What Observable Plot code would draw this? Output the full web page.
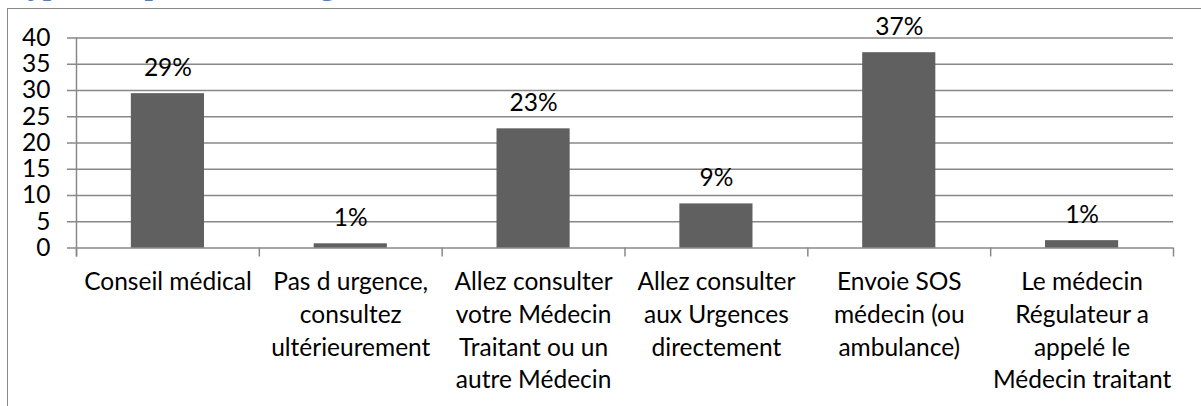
<!DOCTYPE html>
<html><head><meta charset="utf-8">
<script src="https://cdn.jsdelivr.net/npm/d3@7"></script>
<script src="https://cdn.jsdelivr.net/npm/@observablehq/plot@0.6"></script>
<style>
html,body{margin:0;padding:0;background:#fff;overflow:hidden}
#wrap{position:relative;width:1201px;height:406px;overflow:hidden}
#title{position:absolute;left:10px;top:-30px;font:bold 30px "Liberation Serif";line-height:1;color:#4F81BD;white-space:nowrap}
#frame{position:absolute;left:7px;top:7.5px;width:1300px;height:500px;border:1.5px solid #888;box-sizing:border-box}
#chart{position:absolute;left:0;top:0}
</style></head>
<body><div id="wrap"><div id="title">Type de réponse de la régulation</div><div id="frame"></div><div id="chart"></div></div>
<script>
const categories = [
  "Conseil médical",
  "Pas d urgence,\nconsultez\nultérieurement",
  "Allez consulter\nvotre Médecin\nTraitant ou un\nautre Médecin",
  "Allez consulter\naux Urgences\ndirectement",
  "Envoie SOS\nmédecin (ou\nambulance)",
  "Le médecin\nRégulateur a\nappelé le\nMédecin traitant"
];
const values = [29.4, 0.8, 22.7, 8.4, 37.2, 1.4];
const valueLabels = ["29%", "1%", "23%", "9%", "37%", "1%"];
const yTicks = [0, 5, 10, 15, 20, 25, 30, 35, 40];

const rows = categories.map((c, i) => ({i, cat: c, value: values[i], label: valueLabels[i]}));
const boundaries = d3.range(categories.length + 1);
const gray = "#888";
const font = "Lato";
const fs = 24.5;

const chart = Plot.plot({
  width: 1201,
  height: 406,
  marginLeft: 76,
  marginRight: 28,
  marginTop: 37.5,
  marginBottom: 158.5,
  style: {fontFamily: font, background: "transparent", color: "#000"},
  x: {domain: [0, categories.length], axis: null},
  y: {domain: [0, 40], axis: null},
  marks: [
    Plot.ruleY(yTicks, {y: d => d, stroke: gray, strokeWidth: 1.5, insetLeft: -9}),
    Plot.ruleX([0], {x: d => d, stroke: gray, strokeWidth: 1.5, insetBottom: -9}),
    Plot.ruleX(boundaries, {x: d => d, y1: 0, y2: 0, stroke: gray, strokeWidth: 1.5, insetBottom: -9}),
    Plot.rectY(rows, {x1: d => d.i + 0.3, x2: d => d.i + 0.7, y: "value", fill: "#606060"}),
    Plot.text(rows, {x: d => d.i + 0.5, y: "value", text: "label", lineAnchor: "bottom", dy: -18, fontSize: fs, fill: "#000"}),
    Plot.text(rows, {x: d => d.i + 0.5, y: 0, text: "cat", lineAnchor: "top", dy: 19, lineHeight: 32.7 / fs, fontSize: fs, fill: "#000"}),
    Plot.text(yTicks, {x: 0, y: d => d, text: d => String(d), textAnchor: "end", dx: -26, fontSize: fs, fill: "#000"})
  ]
});
document.getElementById("chart").appendChild(chart);
</script>
</body></html>
